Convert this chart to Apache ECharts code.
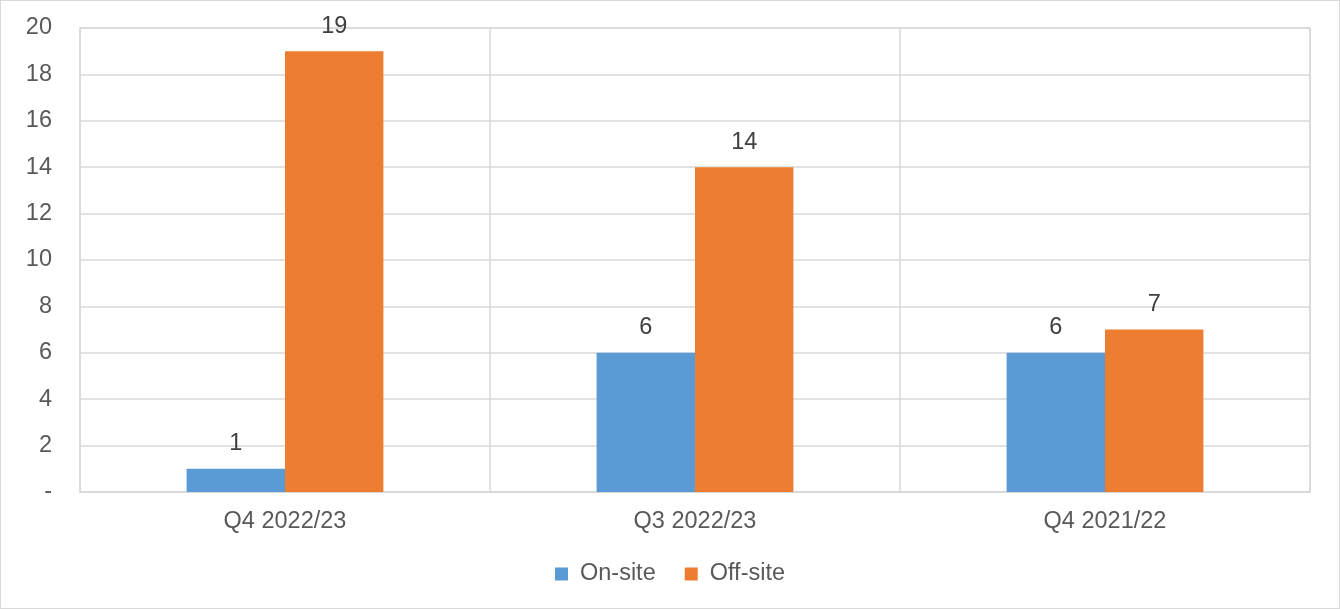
<!DOCTYPE html>
<html><head><meta charset="utf-8">
<script src="https://cdn.jsdelivr.net/npm/echarts@6/dist/echarts.min.js"></script>
<style>html,body{margin:0;padding:0;background:#fff}#c{width:1340px;height:609px;box-sizing:border-box;border:1px solid #d9d9d9}</style>
</head><body><div id="c"></div>
<script>
const categories = ['Q4 2022/23', 'Q3 2022/23', 'Q4 2021/22'];
const onSite = [1, 6, 6];
const offSite = [19, 14, 7];
const yTicks = { min: 0, max: 20, interval: 2 };

const chart = echarts.init(document.getElementById('c'));
const font = 'Arial, "Liberation Sans", sans-serif';
const lbl = { show: true, position: 'top', color: '#404040', fontSize: 23.5, fontFamily: font, distance: 13 };
chart.setOption({
  animation: false,
  grid: { left: 79, right: 29, top: 27, bottom: 116, containLabel: false, show: true, borderColor: '#d9d9d9', borderWidth: 1.5 },
  legend: {
    bottom: 17, left: 'center', itemWidth: 13, itemHeight: 13, itemGap: 29, icon: 'rect',
    textStyle: { color: '#595959', fontSize: 23.5, fontFamily: font, padding: [0, 0, 0, 7] }
  },
  xAxis: {
    type: 'category', data: categories,
    axisLine: { show: true, lineStyle: { color: '#d9d9d9', width: 1.5 } },
    axisTick: { show: false },
    splitLine: { show: true, lineStyle: { color: '#d9d9d9', width: 1.5 } },
    axisLabel: { color: '#595959', fontSize: 23.5, fontFamily: font, margin: 18 }
  },
  yAxis: {
    type: 'value', min: yTicks.min, max: yTicks.max, interval: yTicks.interval,
    axisLine: { show: false }, axisTick: { show: false },
    splitLine: { lineStyle: { color: '#d9d9d9', width: 1.5 } },
    axisLabel: { color: '#595959', fontSize: 23.5, fontFamily: font, margin: 28,
      formatter: v => v === 0 ? '-' : String(v) }
  },
  series: [
    { name: 'On-site', type: 'bar', data: onSite, itemStyle: { color: '#5b9bd5' }, barGap: '0%', barCategoryGap: '52%', label: lbl },
    { name: 'Off-site', type: 'bar', data: offSite, itemStyle: { color: '#ed7d31' }, label: lbl }
  ]
});
</script></body></html>
